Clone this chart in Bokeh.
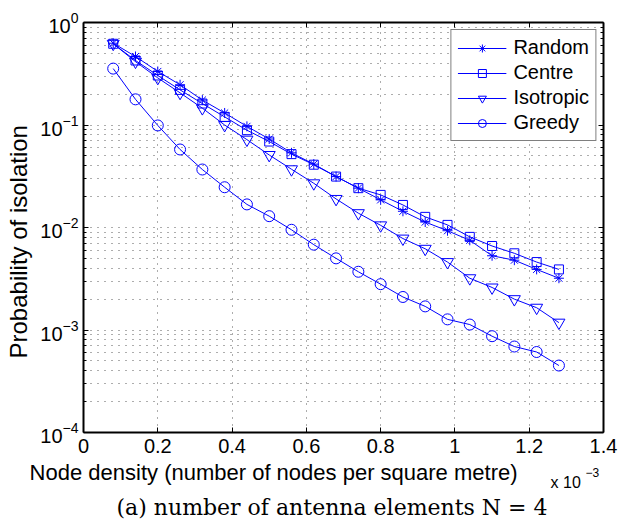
from bokeh.plotting import figure
from bokeh.models import (Range1d, FixedTicker, LinearAxis, LogAxis, Legend, LegendItem,
                          Label, Title, CustomJSTickFormatter)
from bokeh.embed import file_html
from bokeh.resources import INLINE

# ---- data (node density in units of 1e-3 nodes per square metre) ----
density = [0.08, 0.14, 0.20, 0.26, 0.32, 0.38, 0.44, 0.50, 0.56, 0.62, 0.68,
           0.74, 0.80, 0.86, 0.92, 0.98, 1.04, 1.10, 1.16, 1.22, 1.28]
random_p = [0.628, 0.466, 0.333, 0.247, 0.175, 0.131, 0.097, 0.073, 0.0535, 0.0415, 0.0314,
            0.0242, 0.0186, 0.0144, 0.0113, 0.0093, 0.0075, 0.0053, 0.0048, 0.0039, 0.0032]
centre_p = [0.620, 0.426, 0.304, 0.220, 0.162, 0.120, 0.089, 0.069, 0.052, 0.041, 0.0314,
            0.0242, 0.0208, 0.0166, 0.0127, 0.0106, 0.0081, 0.0066, 0.0056, 0.0046, 0.0039]
isotropic_p = [0.620, 0.415, 0.288, 0.206, 0.146, 0.100, 0.072, 0.051, 0.037, 0.027, 0.019,
               0.0138, 0.0105, 0.0078, 0.0062, 0.0046, 0.0032, 0.0026, 0.0020, 0.00165, 0.00118]
greedy_p = [0.355, 0.178, 0.099, 0.0577, 0.0368, 0.0247, 0.0168, 0.0129, 0.0095, 0.0068, 0.0050,
            0.0037, 0.0028, 0.0021, 0.0017, 0.00127, 0.00113, 0.00087, 0.00069, 0.00061, 0.00045]

series_names = ["Random", "Centre", "Isotropic", "Greedy"]
series_values = [random_p, centre_p, isotropic_p, greedy_p]
series_markers = ["asterisk", "square", "inverted_triangle", "circle"]

x_ticks = [0, 0.2, 0.4, 0.6, 0.8, 1.0, 1.2, 1.4]
y_ticks = [1e-4, 1e-3, 1e-2, 1e-1, 1.0]
y_minor = [m * 10.0 ** e for e in range(-4, 0) for m in range(2, 10)]

x_label = "Node density (number of nodes per square metre)"
y_label = "Probability of isolation"
x_scale_base = "x 10"
x_scale_exp = "\u22123"
caption = "(a) number of antenna elements N = 4"

BLUE = "#0000ff"
SANS = "Liberation Sans"

# ---- layout (pixels) ----
W, H = 618, 527
FL, FR, FT, FB = 82, 603, 22, 432          # frame edges
X0, X1 = 0.0, 1.4
LOG0, LOG1 = -4.0, 0.0


def sx_to_x(px):
    """pixel column -> x data value (for placing texts around the frame)"""
    return X0 + (px - FL) / (FR - FL) * (X1 - X0)


def sy_to_y(py):
    """pixel row -> y data value on the log axis"""
    return 10 ** (LOG1 - (py - FT) / (FB - FT) * (LOG1 - LOG0))


p = figure(width=W, height=H, x_range=Range1d(X0, X1), y_range=Range1d(10 ** LOG0, 10 ** LOG1),
           y_axis_type="log", output_backend="svg", toolbar_location=None, title=None,
           min_border_left=FL, min_border_right=W - FR, min_border_top=FT,
           min_border_bottom=H - FB,
           background_fill_color="white", border_fill_color="white")
p.outline_line_color = None

xt = FixedTicker(ticks=x_ticks, minor_ticks=[])
yt = FixedTicker(ticks=y_ticks, minor_ticks=y_minor)

p.add_layout(LinearAxis(), "above")
p.add_layout(LogAxis(), "right")

x_fmt = CustomJSTickFormatter(code="return String(Math.round(tick*10)/10);")
blank = CustomJSTickFormatter(code="return '';")

for ax in p.xaxis:
    ax.ticker = xt
    ax.major_tick_in = 5
    ax.major_tick_out = 0
    ax.minor_tick_line_color = None
    ax.axis_line_width = 2
    ax.major_tick_line_color = "black"
    ax.axis_line_color = "black"
    ax.major_label_text_font = SANS
    ax.major_label_text_color = "black"
for ax in p.yaxis:
    ax.ticker = yt
    ax.major_tick_in = 5
    ax.major_tick_out = 0
    ax.minor_tick_in = 3
    ax.minor_tick_out = 0
    ax.axis_line_width = 2
    ax.major_tick_line_color = "black"
    ax.minor_tick_line_color = "black"
    ax.axis_line_color = "black"
    ax.major_label_text_font = SANS
    ax.major_label_text_color = "black"

bottom = p.below[0]
bottom.formatter = x_fmt
bottom.major_label_text_font_size = "20px"
bottom.major_label_standoff = 6
left = p.left[0]
left.major_label_text_font_size = "20px"
left.major_label_standoff = 5
for ax in (p.above[0], p.right[0]):
    ax.formatter = blank
    ax.major_label_text_font_size = "0px"
    ax.major_label_standoff = 0

p.xgrid.ticker = xt
p.ygrid.ticker = yt
for g in (p.xgrid, p.ygrid):
    g.grid_line_color = "#333333"
    g.grid_line_alpha = 0.8
    g.grid_line_dash = "1 6"
    g.grid_line_width = 1
p.ygrid.minor_grid_line_color = "#333333"
p.ygrid.minor_grid_line_alpha = 0.8
p.ygrid.minor_grid_line_dash = "1 6"
p.ygrid.minor_grid_line_width = 1

marker_sizes = {"asterisk": 10, "square": 9, "inverted_triangle": 12, "circle": 11}
items = []
for name, vals, mk in zip(series_names, series_values, series_markers):
    lr = p.line(density, vals, line_color=BLUE, line_width=1)
    sr = p.scatter(density, vals, marker=mk, size=marker_sizes[mk], line_color=BLUE,
                   fill_color=None, line_width=1)
    items.append(LegendItem(label=name, renderers=[lr, sr]))

legend = Legend(items=items, location="top_right", margin=7, padding=6, spacing=2,
                label_height=20, glyph_height=20, glyph_width=49, label_standoff=7,
                label_text_font=SANS, label_text_font_size="20px", label_text_color="black",
                border_line_color="black", border_line_width=1,
                background_fill_color="white", background_fill_alpha=1.0)
p.add_layout(legend)

# y-axis label as a rotated title on the left
p.add_layout(Title(text=y_label, align="left", offset=FB - 358, vertical_align="top", standoff=8,
                   text_font=SANS, text_font_size="24px", text_font_style="normal",
                   text_color="black"), "left")


def side_label(text, px, py, size, align="left", font=SANS):
    """text whose vertical middle sits at pixel row py"""
    return Label(x=sx_to_x(px), y=sy_to_y(py), text=text, text_align=align,
                 text_baseline="middle", text_font=font, text_font_size=size,
                 text_color="black")


# texts outside the frame live in side panels so they are not clipped
p.add_layout(side_label(x_label, 28, 472, "22px"), "below")
p.add_layout(side_label(caption, 331, 507, "22px", align="center", font="DejaVu Serif"), "below")
p.add_layout(side_label(x_scale_base, 550, 482, "16px"), "above")
p.add_layout(side_label(x_scale_exp, 585, 472, "12px"), "right")

open("out.html", "w").write(file_html(p, INLINE))
